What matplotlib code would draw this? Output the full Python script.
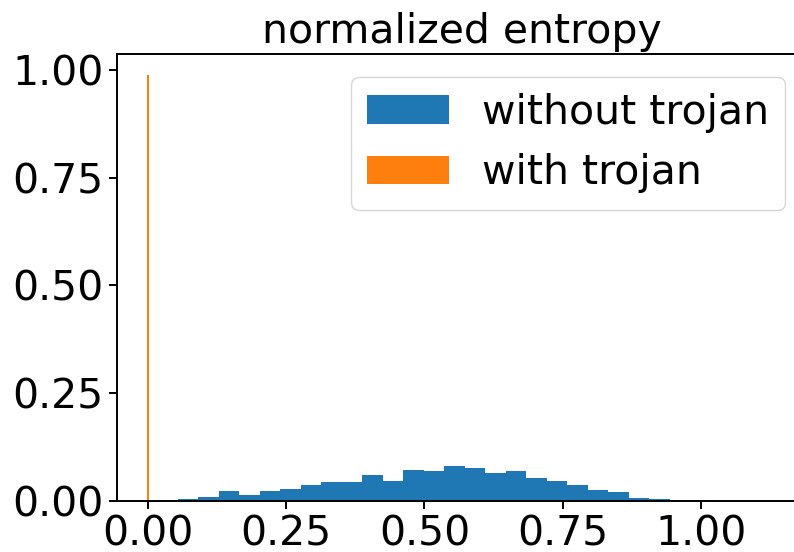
import matplotlib
matplotlib.use("Agg")
import matplotlib.pyplot as plt
import numpy as np

# normalized entropy histograms (weights sum ~1)
bin_start = 0.0163
bin_width = 0.0371
clean_heights = [0.002, 0.004, 0.009, 0.023, 0.015, 0.023, 0.027, 0.037, 0.044, 0.044,
                 0.060, 0.046, 0.071, 0.069, 0.082, 0.076, 0.064, 0.070, 0.054, 0.047,
                 0.036, 0.025, 0.022, 0.006, 0.004, 0.002, 0.002, 0.001, 0.001, 0.001]
trojan_edges = [-0.0015, 0.0015]
trojan_heights = [0.988]

clean_edges = bin_start + bin_width * np.arange(len(clean_heights) + 1)
clean_centers = (clean_edges[:-1] + clean_edges[1:]) / 2
trojan_centers = [(trojan_edges[0] + trojan_edges[1]) / 2]

fig = plt.figure(figsize=(7.94, 5.52), dpi=100)
ax = fig.add_axes([116.7 / 794, 51 / 552, (808 - 116.7) / 794, (501 - 54) / 552])

ax.hist(clean_centers, bins=clean_edges, weights=clean_heights,
        color='#1f77b4', label='without trojan')
ax.hist(trojan_centers, bins=trojan_edges, weights=trojan_heights,
        color='#ff7f0e', label='with trojan')

ax.set_xlim(-0.057, 1.194)
ax.set_ylim(0, 1.037)
ax.set_xticks([0.0, 0.25, 0.5, 0.75, 1.0])
ax.set_yticks([0.0, 0.25, 0.5, 0.75, 1.0])
ax.tick_params(labelsize=29.5, length=6, width=1.4)
for s in ax.spines.values():
    s.set_linewidth(1.4)

ax.set_title('normalized entropy', fontsize=29.5, pad=8)
ax.legend(fontsize=29.5, loc='upper right', borderaxespad=0.55)

fig.savefig('out.png', dpi=100)
